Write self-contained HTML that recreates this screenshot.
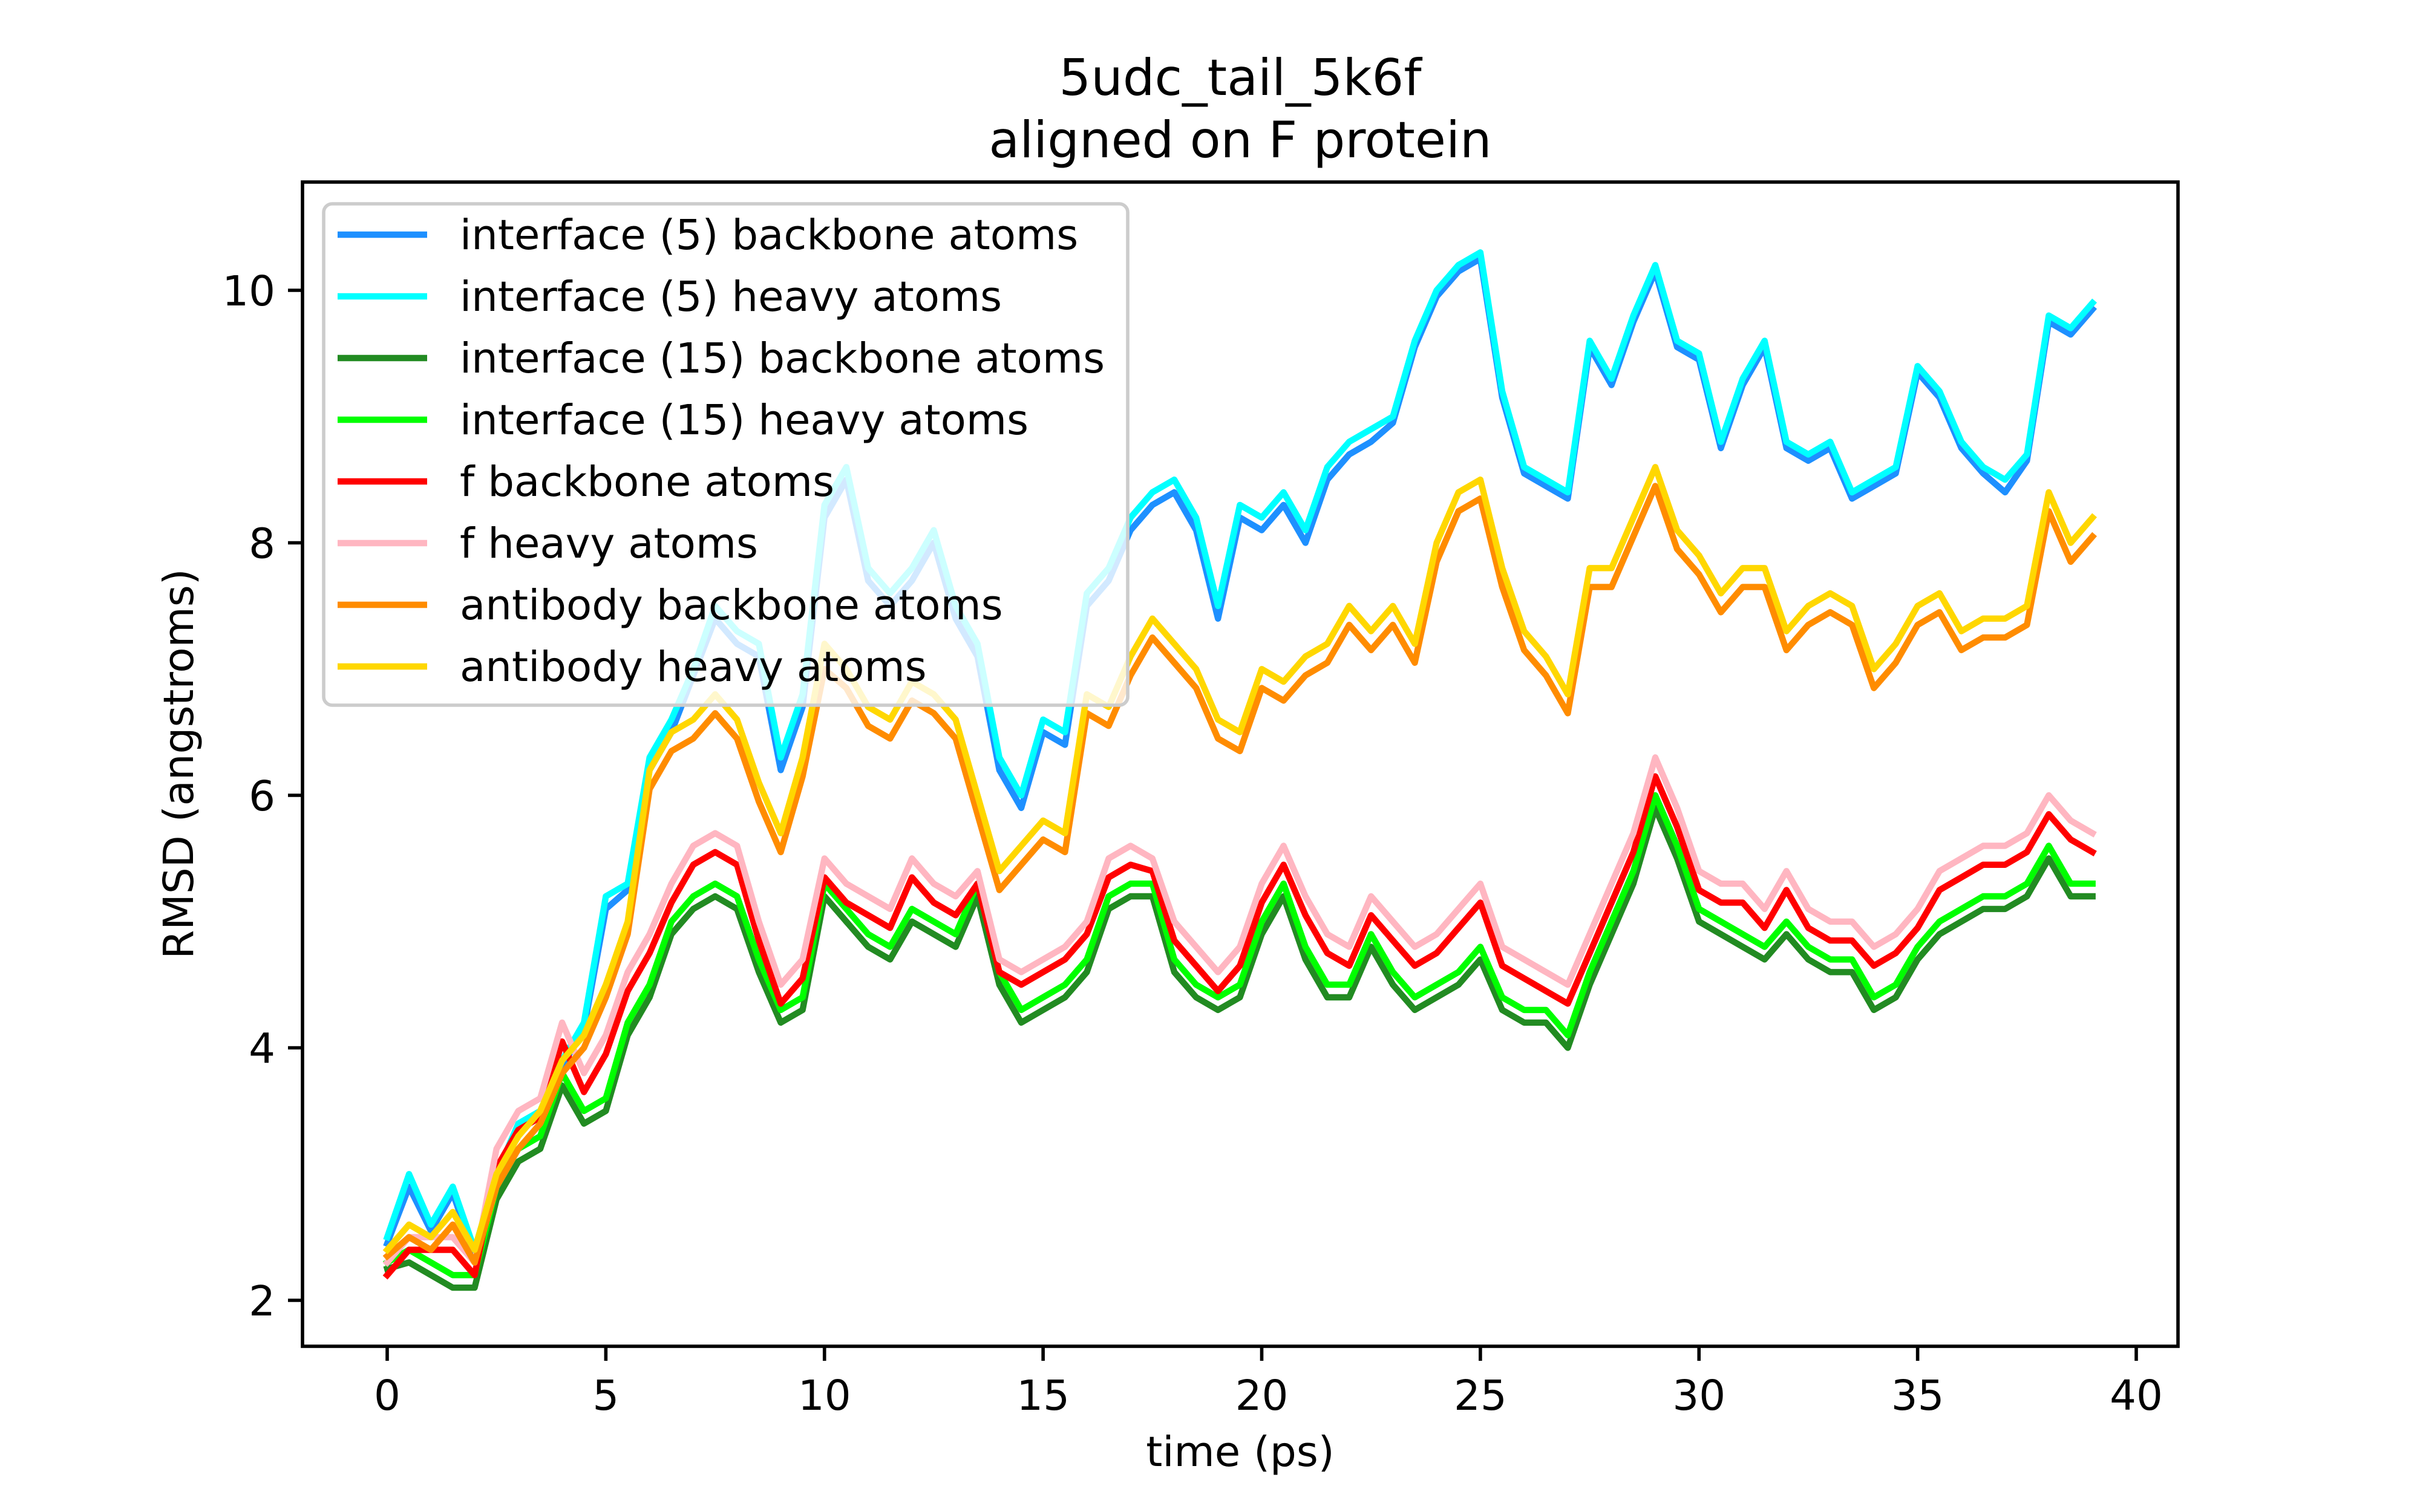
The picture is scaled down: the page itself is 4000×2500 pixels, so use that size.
<!DOCTYPE html>
<html><head><meta charset="utf-8"><style>
html,body{margin:0;padding:0;background:#fff;overflow:hidden;}
svg{display:block;font-family:"DejaVu Sans","Liberation Sans",sans-serif;}
</style></head><body>
<svg id="chart" width="4000" height="2500" viewBox="0 0 4000 2500" xmlns="http://www.w3.org/2000/svg">
<rect x="0" y="0" width="4000" height="2500" fill="#fff"/>
<text x="2050" y="157" font-size="83" text-anchor="middle">5udc_tail_5k6f</text>
<text x="2050" y="260" font-size="83" text-anchor="middle">aligned on F protein</text>
<g id="plot"></g>
<g id="axes"></g>
<g id="legend"></g>
<text x="2050" y="2424" font-size="69" text-anchor="middle">time (ps)</text>
<text x="0" y="0" font-size="69" text-anchor="middle" transform="translate(319,1263) rotate(-90)">RMSD (angstroms)</text>
</svg>
<script>
const times = [0,0.5,1,1.5,2,2.5,3,3.5,4,4.5,5,5.5,6,6.5,7,7.5,8,8.5,9,9.5,10,10.5,11,11.5,12,12.5,13,13.5,14,14.5,15,15.5,16,16.5,17,17.5,18,18.5,19,19.5,20,20.5,21,21.5,22,22.5,23,23.5,24,24.5,25,25.5,26,26.5,27,27.5,28,28.5,29,29.5,30,30.5,31,31.5,32,32.5,33,33.5,34,34.5,35,35.5,36,36.5,37,37.5,38,38.5,39];
const if5Backbone = [2.45,2.9,2.55,2.85,2.35,2.95,3.35,3.45,3.85,4.15,5.1,5.25,6.2,6.5,6.95,7.4,7.2,7.1,6.2,6.7,8.2,8.5,7.7,7.5,7.7,8.0,7.4,7.1,6.2,5.9,6.5,6.4,7.5,7.7,8.1,8.3,8.4,8.1,7.4,8.2,8.1,8.3,8.0,8.5,8.7,8.8,8.95,9.55,9.95,10.15,10.25,9.15,8.55,8.45,8.35,9.55,9.25,9.75,10.15,9.55,9.45,8.75,9.25,9.55,8.75,8.65,8.75,8.35,8.45,8.55,9.35,9.15,8.75,8.55,8.4,8.65,9.75,9.65,9.85];
const if5Heavy = [2.5,3.0,2.6,2.9,2.4,3.0,3.4,3.5,3.9,4.2,5.2,5.3,6.3,6.6,7.0,7.5,7.3,7.2,6.3,6.8,8.3,8.6,7.8,7.6,7.8,8.1,7.5,7.2,6.3,6.0,6.6,6.5,7.6,7.8,8.2,8.4,8.5,8.2,7.5,8.3,8.2,8.4,8.1,8.6,8.8,8.9,9.0,9.6,10.0,10.2,10.3,9.2,8.6,8.5,8.4,9.6,9.3,9.8,10.2,9.6,9.5,8.8,9.3,9.6,8.8,8.7,8.8,8.4,8.5,8.6,9.4,9.2,8.8,8.6,8.5,8.7,9.8,9.7,9.9];
const if15Backbone = [2.25,2.3,2.2,2.1,2.1,2.8,3.1,3.2,3.7,3.4,3.5,4.1,4.4,4.9,5.1,5.2,5.1,4.6,4.2,4.3,5.2,5.0,4.8,4.7,5.0,4.9,4.8,5.2,4.5,4.2,4.3,4.4,4.6,5.1,5.2,5.2,4.6,4.4,4.3,4.4,4.9,5.2,4.7,4.4,4.4,4.8,4.5,4.3,4.4,4.5,4.7,4.3,4.2,4.2,4.0,4.5,4.9,5.3,5.9,5.5,5.0,4.9,4.8,4.7,4.9,4.7,4.6,4.6,4.3,4.4,4.7,4.9,5.0,5.1,5.1,5.2,5.5,5.2,5.2];
const if15Heavy = [2.3,2.4,2.3,2.2,2.2,2.9,3.2,3.3,3.8,3.5,3.6,4.2,4.5,5.0,5.2,5.3,5.2,4.7,4.3,4.4,5.3,5.1,4.9,4.8,5.1,5.0,4.9,5.3,4.6,4.3,4.4,4.5,4.7,5.2,5.3,5.3,4.7,4.5,4.4,4.5,5.0,5.3,4.8,4.5,4.5,4.9,4.6,4.4,4.5,4.6,4.8,4.4,4.3,4.3,4.1,4.6,5.0,5.4,6.0,5.6,5.1,5.0,4.9,4.8,5.0,4.8,4.7,4.7,4.4,4.5,4.8,5.0,5.1,5.2,5.2,5.3,5.6,5.3,5.3];
const fBackbone = [2.2,2.4,2.4,2.4,2.2,3.05,3.35,3.45,4.05,3.65,3.95,4.45,4.75,5.15,5.45,5.55,5.45,4.85,4.35,4.55,5.35,5.15,5.05,4.95,5.35,5.15,5.05,5.3,4.6,4.5,4.6,4.7,4.9,5.35,5.45,5.4,4.85,4.65,4.45,4.65,5.15,5.45,5.05,4.75,4.65,5.05,4.85,4.65,4.75,4.95,5.15,4.65,4.55,4.45,4.35,4.75,5.15,5.55,6.15,5.75,5.25,5.15,5.15,4.95,5.25,4.95,4.85,4.85,4.65,4.75,4.95,5.25,5.35,5.45,5.45,5.55,5.85,5.65,5.55];
const fHeavy = [2.3,2.5,2.5,2.5,2.3,3.2,3.5,3.6,4.2,3.8,4.1,4.6,4.9,5.3,5.6,5.7,5.6,5.0,4.5,4.7,5.5,5.3,5.2,5.1,5.5,5.3,5.2,5.4,4.7,4.6,4.7,4.8,5.0,5.5,5.6,5.5,5.0,4.8,4.6,4.8,5.3,5.6,5.2,4.9,4.8,5.2,5.0,4.8,4.9,5.1,5.3,4.8,4.7,4.6,4.5,4.9,5.3,5.7,6.3,5.9,5.4,5.3,5.3,5.1,5.4,5.1,5.0,5.0,4.8,4.9,5.1,5.4,5.5,5.6,5.6,5.7,6.0,5.8,5.7];
const abBackbone = [2.35,2.5,2.4,2.6,2.3,2.9,3.2,3.4,3.8,4.0,4.4,4.9,6.05,6.35,6.45,6.65,6.45,5.95,5.55,6.15,7.0,6.85,6.55,6.45,6.75,6.65,6.45,5.85,5.25,5.45,5.65,5.55,6.65,6.55,6.95,7.25,7.05,6.85,6.45,6.35,6.85,6.75,6.95,7.05,7.35,7.15,7.35,7.05,7.85,8.25,8.35,7.65,7.15,6.95,6.65,7.65,7.65,8.05,8.45,7.95,7.75,7.45,7.65,7.65,7.15,7.35,7.45,7.35,6.85,7.05,7.35,7.45,7.15,7.25,7.25,7.35,8.25,7.85,8.05];
const abHeavy = [2.4,2.6,2.5,2.7,2.4,3.0,3.3,3.5,3.9,4.1,4.5,5.0,6.2,6.5,6.6,6.8,6.6,6.1,5.7,6.3,7.2,7.0,6.7,6.6,6.9,6.8,6.6,6.0,5.4,5.6,5.8,5.7,6.8,6.7,7.1,7.4,7.2,7.0,6.6,6.5,7.0,6.9,7.1,7.2,7.5,7.3,7.5,7.2,8.0,8.4,8.5,7.8,7.3,7.1,6.8,7.8,7.8,8.2,8.6,8.1,7.9,7.6,7.8,7.8,7.3,7.5,7.6,7.5,7.0,7.2,7.5,7.6,7.3,7.4,7.4,7.5,8.4,8.0,8.2];
const seriesLabels = ["interface (5) backbone atoms","interface (5) heavy atoms","interface (15) backbone atoms","interface (15) heavy atoms","f backbone atoms","f heavy atoms","antibody backbone atoms","antibody heavy atoms"];
const seriesColors = ["#1e90ff","#00ffff","#228b22","#00ff00","#ff0000","#ffb6c1","#ff8c00","#ffd700"];
const xTicks = [0,5,10,15,20,25,30,35,40];
const yTicks = [2,4,6,8,10];
const seriesData = [if5Backbone,if5Heavy,if15Backbone,if15Heavy,fBackbone,fHeavy,abBackbone,abHeavy];

const NS = "http://www.w3.org/2000/svg";
const L = 500, R = 3600, T = 301, B = 2226;
function xs(t){ return 640 + t * (3531 - 640) / 40; }
function ys(v){ return 2150 - (v - 2) * 208.75; }
function mk(tag, attrs, parent){ const e = document.createElementNS(NS, tag); for (const k in attrs) e.setAttribute(k, attrs[k]); parent.appendChild(e); return e; }

const plot = document.getElementById('plot');
const slug = s => s.replace(/[()]/g,'').replace(/\s+/g,'-');
seriesData.forEach((arr, i) => {
  const d = arr.map((v, j) => (j ? 'L' : 'M') + xs(times[j]).toFixed(1) + ',' + ys(v).toFixed(1)).join(' ');
  const p = mk('path', {d: d, fill: 'none', stroke: seriesColors[i], 'stroke-width': 10.4, 'stroke-linejoin': 'round', 'stroke-linecap': 'square'}, plot);
  
  
});

const axes = document.getElementById('axes');
const frame = mk('rect', {x: L, y: T, width: R - L, height: B - T, fill: 'none', stroke: '#000', 'stroke-width': 5.6}, axes);


xTicks.forEach(t => {
  const x = xs(t);
  const tk = mk('line', {x1: x, x2: x, y1: B, y2: B + 24, stroke: '#000', 'stroke-width': 5.6}, axes);
  
  
  const lb = mk('text', {x: x, y: 2331, 'font-size': 69, 'text-anchor': 'middle'}, axes);
  lb.textContent = t;
  
  
});
yTicks.forEach(v => {
  const y = ys(v);
  const tk = mk('line', {x1: L - 24, x2: L, y1: y, y2: y, stroke: '#000', 'stroke-width': 5.6}, axes);
  
  
  const lb = mk('text', {x: L - 45, y: y + 25, 'font-size': 69, 'text-anchor': 'end'}, axes);
  lb.textContent = v;
  
  
});

const leg = document.getElementById('legend');
const box = mk('rect', {x: 535, y: 337, width: 1329, height: 829, rx: 14, ry: 14, fill: '#fff', 'fill-opacity': 0.8, stroke: '#cccccc', 'stroke-width': 5.6}, leg);


seriesLabels.forEach((lab, i) => {
  const cy = 388 + 102 * i;
  const g = mk('g', {}, leg);
  
  
  mk('line', {x1: 558, x2: 706, y1: cy, y2: cy, stroke: seriesColors[i], 'stroke-width': 10.4}, g);
  const tx = mk('text', {x: 760, y: cy + 24, 'font-size': 69}, g);
  tx.textContent = lab;
});
</script>
</body></html>
